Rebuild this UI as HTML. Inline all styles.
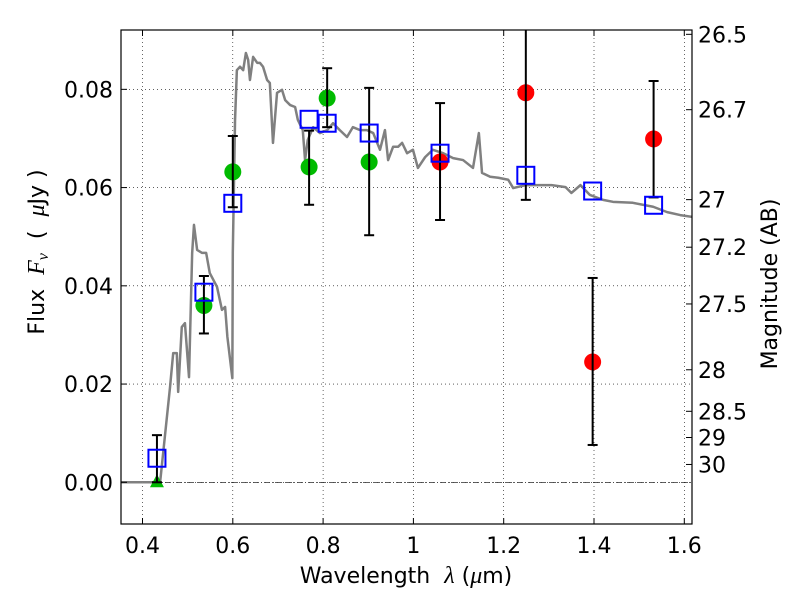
<!DOCTYPE html>
<html><head><meta charset="utf-8"><style>
body{margin:0;background:#fff;}
svg text{font-family:"DejaVu Sans","Liberation Sans",sans-serif;fill:#000;}
</style></head><body>
<svg id="chart" width="800" height="600" xmlns="http://www.w3.org/2000/svg">
<defs><clipPath id="clip"><rect x="121" y="30" width="571" height="494"/></clipPath></defs>
<rect width="800" height="600" fill="#fff"/>
<g id="grid"></g>
<g id="marks" clip-path="url(#clip)"></g>
<g id="over"></g>
<rect x="121" y="30" width="571" height="494" fill="none" stroke="#000" stroke-width="1.2"/>
<g id="axes"></g>
<text x="406" y="583" font-size="22" text-anchor="middle" xml:space="preserve">Wavelength  <tspan font-style="italic" font-family="Liberation Serif" font-size="24">λ</tspan> (<tspan font-style="italic" font-family="Liberation Serif" font-size="24">μ</tspan>m)</text>
<text transform="translate(44,252) rotate(-90)" font-size="22" text-anchor="middle" xml:space="preserve">Flux  <tspan font-style="italic" font-family="Liberation Serif" font-size="24">F<tspan font-size="16" dy="4">ν</tspan></tspan><tspan dy="-4">  (  </tspan><tspan font-style="italic" font-family="Liberation Serif" font-size="24">μ</tspan>Jy )</text>
<text transform="translate(777,284) rotate(-90)" font-size="22" text-anchor="middle">Magnitude (AB)</text>
</svg>
<script>
const xTicks=[0.4,0.6,0.8,1.0,1.2,1.4,1.6];
const xTickLabels=["0.4","0.6","0.8","1","1.2","1.4","1.6"];
const yTicks=[0,0.02,0.04,0.06,0.08];
const yTickLabels=["0.00","0.02","0.04","0.06","0.08"];
const magTicks=[26.5,26.7,27,27.2,27.5,28,28.5,29,30];
const magLabels=["26.5","26.7","27","27.2","27.5","28","28.5","29","30"];
const specWave=[0.352,0.430,0.439,0.461,0.468,0.476,0.479,0.487,0.494,0.503,0.510,0.514,0.521,0.532,0.541,0.549,0.565,0.576,0.583,0.588,0.599,0.600,0.605,0.609,0.616,0.623,0.629,0.634,0.638,0.645,0.654,0.660,0.667,0.676,0.682,0.689,0.698,0.709,0.716,0.727,0.738,0.744,0.755,0.760,0.766,0.778,0.793,0.809,0.822,0.837,0.853,0.866,0.882,0.897,0.911,0.926,0.937,0.944,0.955,0.966,0.975,0.986,0.999,1.010,1.026,1.043,1.066,1.088,1.110,1.132,1.145,1.152,1.170,1.188,1.210,1.221,1.248,1.277,1.306,1.337,1.350,1.370,1.391,1.420,1.442,1.486,1.531,1.562,1.591,1.620];
const specFlux=[0,0,0,0.0194,0.0263,0.0263,0.0184,0.0316,0.0324,0.0214,0.0467,0.0524,0.0473,0.0467,0.0467,0.0426,0.0398,0.0351,0.0357,0.0296,0.0212,0.0467,0.0738,0.0839,0.0846,0.0839,0.0874,0.0860,0.0819,0.0866,0.0854,0.0854,0.0846,0.0819,0.0813,0.0691,0.0793,0.0799,0.0778,0.0768,0.0764,0.0738,0.0717,0.0656,0.0697,0.0723,0.0711,0.0717,0.0731,0.0717,0.0703,0.0723,0.0717,0.0717,0.0711,0.0677,0.0717,0.0656,0.0683,0.0683,0.0691,0.0670,0.0677,0.0640,0.0662,0.0677,0.0670,0.0660,0.0656,0.0640,0.0711,0.0630,0.0622,0.0620,0.0616,0.0599,0.0605,0.0605,0.0605,0.0601,0.0589,0.0605,0.0585,0.0575,0.0571,0.0569,0.0561,0.0550,0.0544,0.0540];
const modelWave=[0.432,0.536,0.600,0.769,0.809,0.902,1.059,1.249,1.397,1.532];
const modelFlux=[0.0049,0.0387,0.0568,0.0739,0.0731,0.0711,0.0670,0.0625,0.0593,0.0564];
const greenWave=[0.536,0.600,0.769,0.809,0.902];
const greenFlux=[0.036,0.0632,0.0642,0.0782,0.0652];
const greenHi=[0.042,0.0705,0.0716,0.0843,0.0803];
const greenLo=[0.0303,0.056,0.0565,0.0723,0.0503];
const limitWave=[0.432];
const limitFlux=[0];
const limitHi=[0.0096];
const redWave=[1.059,1.249,1.397,1.532];
const redFlux=[0.0652,0.0793,0.0245,0.0699];
const redHi=[0.0772,0.101,0.0416,0.0817];
const redLo=[0.0534,0.0575,0.0076,0.058];

const X=w=>142.5+(w-0.4)*451.5;
const Y=f=>482.3-f*4912;
const NS="http://www.w3.org/2000/svg";
function mk(tag,attrs,parent){const e=document.createElementNS(NS,tag);for(const k in attrs)e.setAttribute(k,attrs[k]);parent.appendChild(e);return e;}
const grid=document.getElementById('grid'),marks=document.getElementById('marks'),over=document.getElementById('over'),axes=document.getElementById('axes');

xTicks.forEach((t,i)=>{
  const x=X(t);
  const g=mk('line',{x1:x,x2:x,y1:30,y2:524,stroke:'#000','stroke-width':0.6,'stroke-dasharray':'1,3'},grid);
  
  
  mk('line',{x1:x,x2:x,y1:524,y2:518,stroke:'#000'},axes);
  mk('line',{x1:x,x2:x,y1:30,y2:36,stroke:'#000'},axes);
  const tx=mk('text',{x:x,y:553,'font-size':22,'text-anchor':'middle'},axes);
  tx.textContent=xTickLabels[i];
  
  
});
yTicks.forEach((t,i)=>{
  const y=Y(t);
  const g=mk('line',{x1:121,x2:692,y1:y,y2:y,stroke:'#000','stroke-width':0.6,'stroke-dasharray':'1,3'},grid);
  
  
  mk('line',{x1:121,x2:127,y1:y,y2:y,stroke:'#000'},axes);
  const tx=mk('text',{x:113,y:y+8,'font-size':22,'text-anchor':'end'},axes);
  tx.textContent=yTickLabels[i];
  
  
});
magTicks.forEach((m,i)=>{
  const y=Y(Math.pow(10,(23.9-m)/2.5));
  mk('line',{x1:686,x2:692,y1:y,y2:y,stroke:'#000'},axes);
  const tx=mk('text',{x:698,y:y+8,'font-size':22},axes);
  tx.textContent=magLabels[i];
  
  
});
const zl=mk('line',{x1:121,x2:692,y1:Y(0),y2:Y(0),stroke:'#000','stroke-width':0.6,'stroke-dasharray':'6,2,1,2'},marks);



const sp=mk('polyline',{points:specWave.map((w,i)=>X(w)+','+Y(specFlux[i])).join(' '),fill:'none',stroke:'#808080','stroke-width':2.5,'stroke-linejoin':'round'},marks);



function errbar(w,lo,hi){
  const x=X(w),y1=Y(lo),y2=Y(hi);
  const g=mk('g',{stroke:'#000','stroke-width':2},marks);
  
  
  mk('line',{x1:x,x2:x,y1:y1,y2:y2},g);
  mk('line',{x1:x-5,x2:x+5,y1:y1,y2:y1},g);
  mk('line',{x1:x-5,x2:x+5,y1:y2,y2:y2},g);
}
modelWave.forEach((w,i)=>{
  const r=mk('rect',{x:X(w)-8.5,y:Y(modelFlux[i])-8.5,width:17,height:17,fill:'none',stroke:'#0000ff','stroke-width':2},over);
  
  
});
greenWave.forEach((w,i)=>{
  const c=mk('circle',{cx:X(w),cy:Y(greenFlux[i]),r:8.5,fill:'#00bb00'},marks);
  
  
  errbar(w,greenLo[i],greenHi[i]);
});
limitWave.forEach((w,i)=>{
  const x=X(w),y=Y(limitFlux[i]);
  const t=mk('polygon',{points:`${x},${y-8} ${x-7},${y+5} ${x+7},${y+5}`,fill:'#00bb00'},marks);
  
  
  errbar(w,limitFlux[i],limitHi[i]);
});
redWave.forEach((w,i)=>{
  const c=mk('circle',{cx:X(w),cy:Y(redFlux[i]),r:8.5,fill:'#ff0000'},marks);
  
  
  errbar(w,redLo[i],redHi[i]);
});
</script>
</body></html>
